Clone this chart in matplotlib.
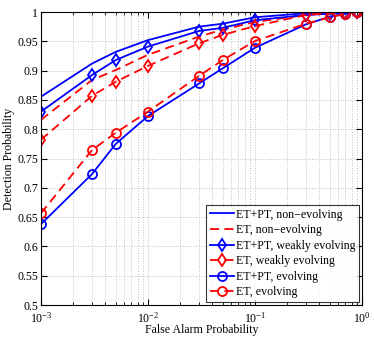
import matplotlib
matplotlib.use("Agg")
import matplotlib.pyplot as plt
import numpy as np

plt.rcParams['font.family'] = ['Liberation Serif', 'DejaVu Serif']
plt.rcParams['mathtext.fontset'] = 'stix'

pfa = [1e-3, 3e-3, 5e-3, 1e-2, 3e-2, 5e-2, 0.1, 0.3, 0.5, 0.7, 0.9]
etpt_non = [0.8555, 0.912, 0.932, 0.952, 0.975, 0.980, 0.991, 0.998, 0.999, 1.0, 1.0]
et_non = [0.816, 0.884, 0.901, 0.927, 0.958, 0.970, 0.983, 0.995, 0.998, 0.999, 1.0]
etpt_weak = [0.830, 0.8925, 0.918, 0.941, 0.9676, 0.973, 0.986, 0.995, 0.997, 0.999, 1.0]
et_weak = [0.782, 0.857, 0.881, 0.908, 0.9465, 0.961, 0.976, 0.995, 0.998, 0.999, 1.0]
etpt_evo = [0.638, 0.7235, 0.775, 0.8225, 0.878, 0.904, 0.939, 0.979, 0.992, 0.997, 1.0]
et_evo = [0.6565, 0.7645, 0.794, 0.830, 0.891, 0.918, 0.9505, 0.980, 0.991, 0.997, 1.0]

labels = ['ET+PT, non\u2212evolving', 'ET, non\u2212evolving', 'ET+PT, weakly evolving',
          'ET, weakly evolving', 'ET+PT, evolving', 'ET, evolving']

fig = plt.figure(figsize=(3.74, 3.37), dpi=100)
ax = fig.add_axes([41/374, 1 - 305/337, (362-41)/374, (305-12)/337])

lw = 1.3
ms = 6.5
ax.plot(pfa, etpt_non, '-', color='blue', lw=lw, label=labels[0])
ax.plot(pfa, et_non, '--', color='red', lw=lw, label=labels[1], dashes=(5, 3))
ax.plot(pfa, etpt_weak, '-', color='blue', lw=lw, marker='d', ms=ms, mfc='none', mew=1.3, label=labels[2])
ax.plot(pfa, et_weak, '--', color='red', lw=lw, marker='d', ms=ms, mfc='none', mew=1.3, label=labels[3], dashes=(5, 3))
ax.plot(pfa, etpt_evo, '-', color='blue', lw=lw, marker='o', ms=ms, mfc='none', mew=1.3, label=labels[4])
ax.plot(pfa, et_evo, '--', color='red', lw=lw, marker='o', ms=ms, mfc='none', mew=1.3, label=labels[5], dashes=(5, 3))

ax.set_xscale('log')
ax.set_xlim(1e-3, 1)
ax.set_ylim(0.5, 1)
ax.set_yticks(np.arange(0.5, 1.0001, 0.05))
ax.set_yticklabels(['0.5', '0.55', '0.6', '0.65', '0.7', '0.75', '0.8', '0.85', '0.9', '0.95', '1'])
ax.grid(True, which='both', linestyle=':', color='#c0c0c0', lw=0.7)
ax.tick_params(which='both', direction='in', top=True, right=True, labelsize=8.6, pad=2)
ax.tick_params(axis='x', pad=4.5)
ax.tick_params(which='major', length=4)
ax.tick_params(which='minor', length=2)
ax.set_xlabel('False Alarm Probability', fontsize=8.6, labelpad=-1.5)
ax.set_ylabel('Detection Probability', fontsize=8.6)
ax.yaxis.set_label_coords(-0.082, 0.5)
for s in ax.spines.values():
    s.set_linewidth(0.8)

leg = ax.legend(loc='lower right', fontsize=8.6, frameon=True, fancybox=False, edgecolor='black',
                borderaxespad=0.25, handlelength=2.0, handletextpad=0.2, labelspacing=0.3, borderpad=0.3)
leg.get_frame().set_linewidth(0.8)

fig.savefig('out.png', dpi=100)
